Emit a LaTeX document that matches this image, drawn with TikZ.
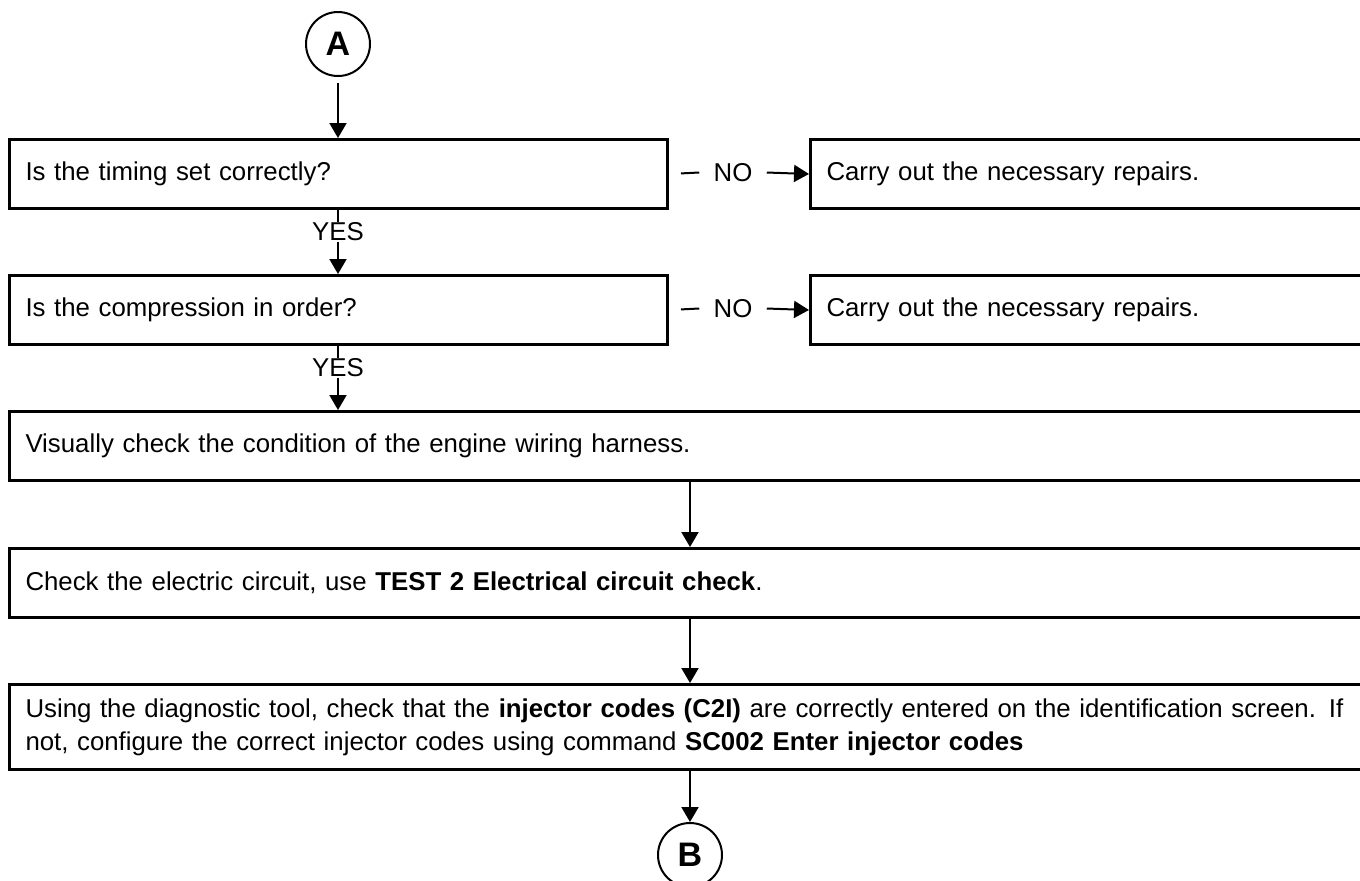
\documentclass[tikz,border=0pt]{standalone}
\usepackage{fontspec}
\setmainfont{Liberation Sans}
\usetikzlibrary{arrows.meta}

\begin{document}
\begin{tikzpicture}[x=0.5pt,y=-0.5pt,
  box/.style={draw, line width=1.5pt, anchor=north west, align=left, inner xsep=8pt,
              text width=#1, minimum height=34.5pt, font=\fontsize{12.9}{16.4}\selectfont},
  conn/.style={circle, draw, line width=1pt, minimum size=32pt, inner sep=0pt,
               font=\fontsize{17}{20}\selectfont\bfseries},
  lbl/.style={inner sep=0pt, font=\fontsize{12.9}{16.4}\selectfont},
  arr/.style={-{Triangle[length=7.5pt,width=8.5pt]}, line width=1pt}]
  \clip (0,0) rectangle (1360,880);
  % connectors in and out
  \node[conn] (A) at (338,44)  {A};
  \node[conn] (B) at (690,855) {B};
  % questions and answers
  \node[box=313pt] (timing)  at (8,138)   {Is the timing set correctly?};
  \node[box=284pt] (repair1) at (809,138) {Carry out the necessary repairs.};
  \node[box=313pt] (compr)   at (8,274)   {Is the compression in order?};
  \node[box=284pt] (repair2) at (809,274) {Carry out the necessary repairs.};
  \node[lbl] (yes1) at (338,232) {YES};
  \node[lbl] (yes2) at (338,368) {YES};
  \node[lbl, inner xsep=7pt] (no1) at (733,172.5) {NO};
  \node[lbl, inner xsep=7pt] (no2) at (733,308.5) {NO};
  % checks
  \node[box=684pt] (harness) at (8,410) {Visually check the condition of the engine wiring harness.};
  \node[box=684pt] (circuit) at (8,547) {Check the electric circuit, use \textbf{TEST 2 Electrical circuit check}.};
  \node[box=684pt, minimum height=42.5pt] (codes) at (8,683)
    {Using the diagnostic tool, check that the \textbf{injector codes (C2I)} are correctly entered on the identification screen. If\\
     not, configure the correct injector codes using command \textbf{SC002 Enter injector codes}};
  % arrows
  \draw[arr, shorten <=3pt] (A) -- (A |- timing.north);
  \draw[line width=1pt] (timing.south -| yes1) -- (yes1.north);
  \draw[arr] (yes1.south) -- (yes1 |- compr.north);
  \draw[line width=1pt] (compr.south -| yes2) -- (yes2.north);
  \draw[arr] (yes2.south) -- (yes2 |- harness.north);
  \draw[line width=1pt, shorten <=6pt] (timing.east) -- (no1.west);
  \draw[arr] (no1.east) -- (repair1.west);
  \draw[line width=1pt, shorten <=6pt] (compr.east) -- (no2.west);
  \draw[arr] (no2.east) -- (repair2.west);
  \draw[arr] (harness.south -| B) -- (circuit.north -| B);
  \draw[arr] (circuit.south -| B) -- (codes.north -| B);
  \draw[arr] (codes.south -| B) -- (B);
\end{tikzpicture}
\end{document}
